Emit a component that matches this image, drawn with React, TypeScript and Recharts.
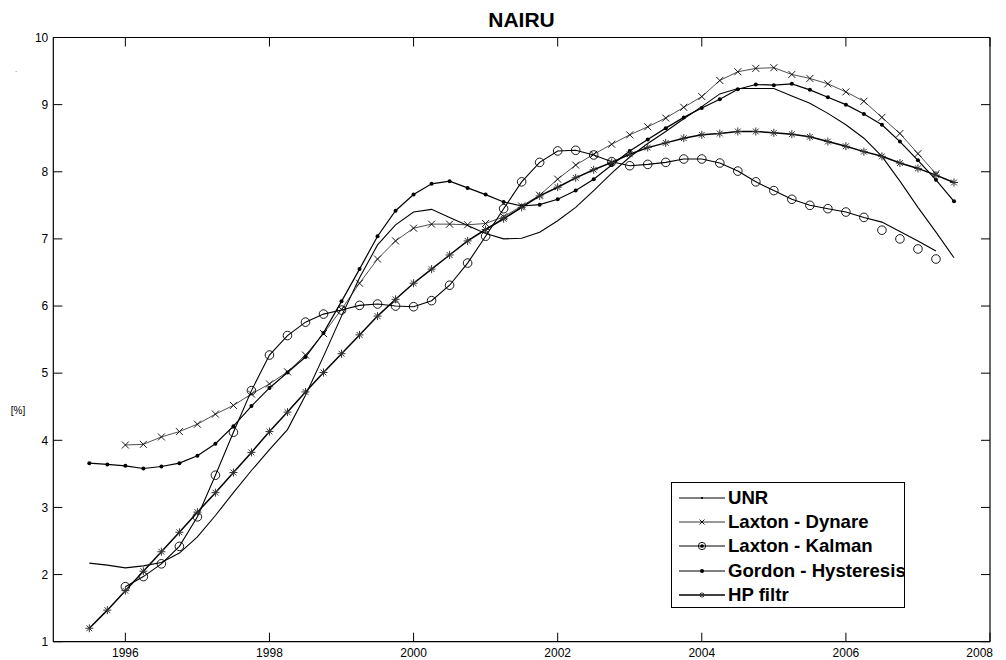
import React from 'react';
import { LineChart, Line, XAxis, YAxis, Legend } from 'recharts';

const FONT = '"Liberation Sans", Arial, Helvetica, sans-serif';

const quarters = [
  1995.5, 1995.75, 1996, 1996.25, 1996.5, 1996.75, 1997, 1997.25, 1997.5, 1997.75,
  1998, 1998.25, 1998.5, 1998.75, 1999, 1999.25, 1999.5, 1999.75, 2000, 2000.25,
  2000.5, 2000.75, 2001, 2001.25, 2001.5, 2001.75, 2002, 2002.25, 2002.5, 2002.75,
  2003, 2003.25, 2003.5, 2003.75, 2004, 2004.25, 2004.5, 2004.75, 2005, 2005.25,
  2005.5, 2005.75, 2006, 2006.25, 2006.5, 2006.75, 2007, 2007.25, 2007.5,
];

const unr = [
  2.17, 2.14, 2.10, 2.13, 2.18, 2.32, 2.56, 2.88, 3.22, 3.55,
  3.86, 4.16, 4.67, 5.25, 5.85, 6.42, 6.91, 7.21, 7.40, 7.44,
  7.32, 7.20, 7.08, 7.00, 7.01, 7.10, 7.27, 7.47, 7.72, 7.98,
  8.22, 8.42, 8.60, 8.79, 8.97, 9.16, 9.24, 9.24, 9.24, 9.13,
  9.02, 8.87, 8.70, 8.50, 8.23, 7.86, 7.47, 7.10, 6.72,
];

const dynare = [
  null, null, 3.93, 3.94, 4.05, 4.13, 4.24, 4.39, 4.52, 4.69,
  4.84, 5.02, 5.27, 5.59, 5.95, 6.34, 6.70, 6.97, 7.16, 7.22,
  7.22, 7.21, 7.23, 7.33, 7.49, 7.65, 7.89, 8.10, 8.26, 8.41,
  8.55, 8.67, 8.80, 8.96, 9.12, 9.36, 9.49, 9.54, 9.55, 9.45,
  9.39, 9.31, 9.19, 9.05, 8.81, 8.57, 8.27, 7.97, null,
];

const kalmanLine = [
  null, null, 1.82, 1.97, 2.16, 2.42, 2.86, 3.48, 4.12, 4.74,
  5.27, 5.56, 5.76, 5.88, 5.94, 6.01, 6.03, 6.00, 5.99, 6.08,
  6.31, 6.64, 7.04, 7.45, 7.85, 8.14, 8.31, 8.32, 8.25, 8.15,
  8.09, 8.11, 8.14, 8.19, 8.19, 8.13, 8.01, 7.85, 7.72, 7.59,
  7.50, 7.45, 7.40, 7.32, 7.25, 7.11, 6.97, 6.82, null,
];

const kalmanMarks = [
  null, null, 1.82, 1.97, 2.16, 2.42, 2.86, 3.48, 4.12, 4.74,
  5.27, 5.56, 5.76, 5.88, 5.94, 6.01, 6.03, 6.00, 5.99, 6.08,
  6.31, 6.64, 7.04, 7.45, 7.85, 8.14, 8.31, 8.32, 8.25, 8.15,
  8.09, 8.11, 8.14, 8.19, 8.19, 8.13, 8.01, 7.85, 7.72, 7.59,
  7.50, 7.45, 7.40, 7.32, 7.13, 7.00, 6.85, 6.70, null,
];

const gordon = [
  3.66, 3.64, 3.62, 3.58, 3.61, 3.66, 3.77, 3.95, 4.21, 4.51,
  4.78, 5.01, 5.24, 5.60, 6.07, 6.55, 7.04, 7.42, 7.66, 7.82,
  7.86, 7.76, 7.66, 7.55, 7.49, 7.51, 7.59, 7.72, 7.89, 8.10,
  8.31, 8.48, 8.65, 8.81, 8.95, 9.08, 9.23, 9.30, 9.29, 9.31,
  9.22, 9.11, 9.00, 8.86, 8.70, 8.45, 8.17, 7.88, 7.56,
];

const hp = [
  1.20, 1.47, 1.76, 2.05, 2.34, 2.63, 2.93, 3.22, 3.52, 3.82,
  4.13, 4.42, 4.72, 5.01, 5.29, 5.57, 5.85, 6.10, 6.34, 6.55,
  6.76, 6.97, 7.14, 7.30, 7.47, 7.64, 7.77, 7.91, 8.03, 8.14,
  8.26, 8.36, 8.43, 8.50, 8.55, 8.57, 8.60, 8.60, 8.58, 8.56,
  8.52, 8.45, 8.38, 8.30, 8.23, 8.13, 8.05, 7.95, 7.84,
];

const xTicks = [1996, 1998, 2000, 2002, 2004, 2006, 2008];
const yTicks = [1, 2, 3, 4, 5, 6, 7, 8, 9, 10];

const legendOrder = ['unr', 'dynare', 'kalmanLine', 'gordon', 'hp'];
const seriesNames = {
  unr: 'UNR',
  dynare: 'Laxton - Dynare',
  kalmanLine: 'Laxton - Kalman',
  gordon: 'Gordon - Hysteresis',
  hp: 'HP filtr',
};

const data = quarters.map((t, i) => ({
  t,
  unr: unr[i],
  dynare: dynare[i],
  kalmanLine: kalmanLine[i],
  kalman: kalmanMarks[i],
  gordon: gordon[i],
  hp: hp[i],
}));

type Kind = 'point' | 'x' | 'circle' | 'circdot' | 'dot' | 'star';

function Marker({ kind, cx, cy, s = 1 }: { kind: Kind; cx: number; cy: number; s?: number }) {
  if (kind === 'x') {
    const a = 3.5 * s;
    return (
      <g stroke="#000" strokeWidth={0.9}>
        <line x1={cx - a} y1={cy - a} x2={cx + a} y2={cy + a} />
        <line x1={cx - a} y1={cy + a} x2={cx + a} y2={cy - a} />
      </g>
    );
  }
  if (kind === 'circle') {
    return <circle cx={cx} cy={cy} r={4.3 * s} fill="none" stroke="#000" strokeWidth={0.9} />;
  }
  if (kind === 'circdot') {
    return (
      <g>
        <circle cx={cx} cy={cy} r={4.3 * s} fill="none" stroke="#000" strokeWidth={0.9} />
        <circle cx={cx} cy={cy} r={2.2 * s} fill="#000" />
      </g>
    );
  }
  if (kind === 'dot') {
    return <circle cx={cx} cy={cy} r={2 * s} fill="#000" />;
  }
  if (kind === 'point') {
    return <circle cx={cx} cy={cy} r={1.1 * s} fill="#000" />;
  }
  const a = 4 * s;
  const d = 2.9 * s;
  return (
    <g stroke="#333" strokeWidth={1}>
      <line x1={cx - a} y1={cy} x2={cx + a} y2={cy} />
      <line x1={cx} y1={cy - a} x2={cx} y2={cy + a} />
      <line x1={cx - d} y1={cy - d} x2={cx + d} y2={cy + d} />
      <line x1={cx - d} y1={cy + d} x2={cx + d} y2={cy - d} />
    </g>
  );
}

const makeDot = (kind: Kind) => (props: any) => {
  const { cx, cy, index } = props;
  if (cx == null || cy == null || Number.isNaN(cx) || Number.isNaN(cy)) {
    return <g key={`e-${kind}-${index}`} />;
  }
  return (
    <g key={`m-${kind}-${index}`}>
      <Marker kind={kind} cx={cx} cy={cy} />
    </g>
  );
};

const TICK = 9;

const LeftTick = (props: any) => {
  const { x, y, payload } = props;
  return (
    <g>
      <line x1={x} y1={y} x2={x + TICK} y2={y} stroke="#000" strokeWidth={1} />
      <text x={x - 5} y={y} dy={4.3} textAnchor="end" fontSize={12} fontFamily={FONT} fill="#000">
        {payload.value}
      </text>
    </g>
  );
};

const RightTick = (props: any) => {
  const { x, y } = props;
  return <line x1={x} y1={y} x2={x - TICK} y2={y} stroke="#000" strokeWidth={1} />;
};

const BottomTick = (props: any) => {
  const { x, y, payload } = props;
  const last = payload.value === 2008;
  return (
    <g>
      <line x1={x} y1={y} x2={x} y2={y - TICK} stroke="#000" strokeWidth={1} />
      <text
        x={last ? x + 3 : x}
        y={y}
        dy={15}
        textAnchor={last ? 'end' : 'middle'}
        fontSize={12}
        fontFamily={FONT}
        fill="#000"
      >
        {payload.value}
      </text>
    </g>
  );
};

const TopTick = (props: any) => {
  const { x, y } = props;
  return <line x1={x} y1={y} x2={x} y2={y + TICK} stroke="#000" strokeWidth={1} />;
};

const legendKinds: Record<string, { kind: Kind; w: number; s: number }> = {
  unr: { kind: 'point', w: 1, s: 1 },
  dynare: { kind: 'x', w: 0.8, s: 0.7 },
  kalmanLine: { kind: 'circdot', w: 1.2, s: 0.85 },
  gordon: { kind: 'dot', w: 1.2, s: 1 },
  hp: { kind: 'star', w: 1.6, s: 0.7 },
};

const LegendContent = (props: any) => {
  const items = (props.payload || [])
    .filter((p: any) => legendKinds[p.dataKey as string])
    .slice()
    .sort((a: any, b: any) => legendOrder.indexOf(a.dataKey) - legendOrder.indexOf(b.dataKey));
  return (
    <div
      style={{
        boxSizing: 'border-box',
        width: 234,
        height: 126,
        border: '1.3px solid #000',
        background: '#fff',
        padding: '3px 0 0 7px',
        fontFamily: FONT,
        overflow: 'hidden',
      }}
    >
      {items.map((p: any) => {
        const cfg = legendKinds[p.dataKey as string];
        return (
          <div key={p.dataKey} style={{ display: 'flex', alignItems: 'center', height: 24.3 }}>
            <svg width={46} height={14} style={{ display: 'block', flex: 'none' }}>
              <line x1={0} x2={46} y1={7} y2={7} stroke="#000" strokeWidth={cfg.w} />
              <Marker kind={cfg.kind} cx={23} cy={7} s={cfg.s} />
            </svg>
            <span style={{ marginLeft: 3, fontWeight: 'bold', fontSize: 18.6, color: '#000', whiteSpace: 'nowrap', lineHeight: '20px' }}>
              {p.value}
            </span>
          </div>
        );
      })}
    </div>
  );
};

export default function App() {
  return (
    <div style={{ position: 'absolute', left: 0, top: 0, width: 1006, height: 660, background: '#fff' }}>
      <LineChart width={1006} height={660} data={data} margin={{ top: 0, right: 0, bottom: 0, left: 0 }}>
        <XAxis
          xAxisId="bottom"
          dataKey="t"
          type="number"
          domain={[1995, 2008]}
          ticks={xTicks}
          allowDataOverflow
          orientation="bottom"
          height={18.3}
          tickSize={0}
          tickMargin={0}
          tickLine={false}
          axisLine={{ stroke: '#000', strokeWidth: 1.2 }}
          tick={<BottomTick />}
          interval={0}
        />
        <XAxis
          xAxisId="top"
          dataKey="t"
          type="number"
          domain={[1995, 2008]}
          ticks={xTicks}
          allowDataOverflow
          orientation="top"
          height={37.5}
          tickSize={0}
          tickMargin={0}
          tickLine={false}
          axisLine={{ stroke: '#000', strokeWidth: 1.2 }}
          tick={<TopTick />}
          interval={0}
        />
        <YAxis
          yAxisId="left"
          type="number"
          domain={[1, 10]}
          ticks={yTicks}
          allowDataOverflow
          orientation="left"
          width={53.3}
          tickSize={0}
          tickMargin={0}
          tickLine={false}
          axisLine={{ stroke: '#000', strokeWidth: 1.2 }}
          tick={<LeftTick />}
          interval={0}
        />
        <YAxis
          yAxisId="right"
          type="number"
          domain={[1, 10]}
          ticks={yTicks}
          allowDataOverflow
          orientation="right"
          width={16}
          tickSize={0}
          tickMargin={0}
          tickLine={false}
          axisLine={{ stroke: '#000', strokeWidth: 1.2 }}
          tick={<RightTick />}
          interval={0}
        />
        <Legend
          layout="vertical"
          align="center"
          verticalAlign="middle"
          content={<LegendContent />}
          wrapperStyle={{ left: 671, top: 481.7, width: 234, height: 126 }}
        />
        <Line
          xAxisId="bottom"
          yAxisId="left"
          dataKey="unr"
          name={seriesNames.unr}
          type="linear"
          stroke="#000"
          strokeWidth={1.1}
          dot={false}
          activeDot={false}
          isAnimationActive={false}
        />
        <Line
          xAxisId="bottom"
          yAxisId="left"
          dataKey="dynare"
          name={seriesNames.dynare}
          type="linear"
          stroke="#222"
          strokeWidth={0.8}
          dot={makeDot('x')}
          activeDot={false}
          isAnimationActive={false}
        />
        <Line
          xAxisId="bottom"
          yAxisId="left"
          dataKey="kalmanLine"
          name={seriesNames.kalmanLine}
          type="linear"
          stroke="#000"
          strokeWidth={1.1}
          dot={false}
          activeDot={false}
          isAnimationActive={false}
        />
        <Line
          xAxisId="bottom"
          yAxisId="left"
          dataKey="kalman"
          name="Laxton - Kalman (marks)"
          legendType="none"
          type="linear"
          stroke="none"
          dot={makeDot('circle')}
          activeDot={false}
          isAnimationActive={false}
        />
        <Line
          xAxisId="bottom"
          yAxisId="left"
          dataKey="gordon"
          name={seriesNames.gordon}
          type="linear"
          stroke="#000"
          strokeWidth={1.2}
          dot={makeDot('dot')}
          activeDot={false}
          isAnimationActive={false}
        />
        <Line
          xAxisId="bottom"
          yAxisId="left"
          dataKey="hp"
          name={seriesNames.hp}
          type="linear"
          stroke="#000"
          strokeWidth={1.5}
          dot={makeDot('star')}
          activeDot={false}
          isAnimationActive={false}
        />
      </LineChart>
      <svg
        width={1006}
        height={660}
        style={{ position: 'absolute', left: 0, top: 0, pointerEvents: 'none' }}
      >
        <text x={521.5} y={26.7} textAnchor="middle" fontSize={21} fontWeight="bold" fontFamily={FONT} fill="#000">
          NAIRU
        </text>
        <text x={18} y={414} textAnchor="middle" fontSize={10} fontFamily={FONT} fill="#000">
          [%]
        </text>
        <text x={16} y={72} textAnchor="middle" fontSize={8} fontFamily={FONT} fill="#555">
          .
        </text>
      </svg>
    </div>
  );
}
